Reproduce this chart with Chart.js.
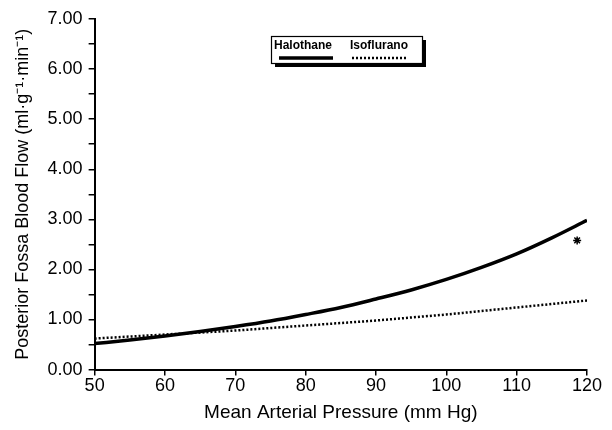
<!DOCTYPE html>
<html>
<head>
<meta charset="utf-8">
<script src="https://cdn.jsdelivr.net/npm/chart.js@4"></script>
<style>
  body { margin: 0; background: #fff; }
  #wrap { position: relative; width: 612px; height: 430px; }
</style>
</head>
<body>
<div id="wrap"><canvas id="flowChart" width="612" height="430"></canvas></div>
<script>
// Mean arterial pressure (mm Hg)
const pressure = [50, 55, 60, 65, 70, 75, 80, 85, 90, 95, 100, 105, 110, 115, 120];
// Posterior fossa blood flow (ml/g/min)
const halothane = [0.52, 0.59, 0.67, 0.76, 0.86, 0.97, 1.10, 1.24, 1.41, 1.59, 1.80, 2.04, 2.31, 2.63, 2.98];
const isoflurano = [0.62, 0.66, 0.70, 0.74, 0.78, 0.83, 0.88, 0.93, 0.98, 1.04, 1.10, 1.17, 1.24, 1.31, 1.38];
// significance marker
const starX = [118.6];
const starY = [2.58];
const yTicks = [0, 1, 2, 3, 4, 5, 6, 7];

const FONT = '"Liberation Sans", Arial, Helvetica, sans-serif';

function toPoints(xs, ys) {
    return xs.map(function(x, i) { return { x: x, y: ys[i] }; });
}

// boxed legend with a drop shadow, drawn inside the plot area
const boxLegend = {
    id: 'boxLegend',
    afterDraw: function(chart) {
        const ctx = chart.ctx;
        const left = 271, top = 36, w = 151, h = 27;
        ctx.save();
        ctx.fillStyle = '#000';
        ctx.fillRect(left + 4, top + 4, w, h);
        ctx.fillStyle = '#fff';
        ctx.fillRect(left, top, w, h);
        ctx.strokeStyle = '#000';
        ctx.lineWidth = 1.2;
        ctx.strokeRect(left + 0.5, top + 0.5, w, h);

        const items = [
            { ds: chart.data.datasets[0], tx: 274, lx: 279, lw: 54 },
            { ds: chart.data.datasets[1], tx: 350, lx: 352, lw: 56 }
        ];
        ctx.font = 'bold 12px ' + FONT;
        ctx.textBaseline = 'middle';
        ctx.textAlign = 'left';
        items.forEach(function(it) {
            ctx.fillStyle = '#000';
            ctx.fillText(it.ds.label, it.tx, top + 10);
            ctx.beginPath();
            ctx.setLineDash(it.ds.borderDash || []);
            ctx.lineWidth = it.ds.borderWidth;
            ctx.moveTo(it.lx, top + 22);
            ctx.lineTo(it.lx + it.lw, top + 22);
            ctx.stroke();
        });
        ctx.restore();
    }
};

document.addEventListener('DOMContentLoaded', function() {
    const data = {
        datasets: [{
            label: 'Halothane',
            data: toPoints(pressure, halothane),
            borderColor: '#000',
            borderWidth: 3.5,
            pointRadius: 0,
            cubicInterpolationMode: 'monotone'
        }, {
            label: 'Isoflurano',
            data: toPoints(pressure, isoflurano),
            borderColor: '#000',
            borderWidth: 2.5,
            borderDash: [2, 2],
            pointRadius: 0,
            cubicInterpolationMode: 'monotone'
        }, {
            label: 'significance',
            type: 'scatter',
            data: toPoints(starX, starY),
            pointStyle: 'star',
            pointRadius: 4,
            borderColor: '#000',
            backgroundColor: '#000',
            borderWidth: 1.5
        }]
    };

    const config = {
        type: 'line',
        data: data,
        plugins: [boxLegend],
        options: {
            responsive: false,
            animation: false,
            layout: { padding: { top: 19, right: 25, left: 4, bottom: 6 } },
            plugins: {
                legend: { display: false },
                tooltip: { enabled: false }
            },
            scales: {
                x: {
                    type: 'linear',
                    min: 50,
                    max: 120,
                    border: { display: true, color: '#000', width: 2 },
                    grid: { drawOnChartArea: false, color: '#000', tickLength: 6, lineWidth: 1.5 },
                    ticks: {
                        stepSize: 10,
                        color: '#000',
                        font: { family: FONT, size: 18 },
                        padding: 0
                    },
                    title: {
                        display: true,
                        text: 'Mean Arterial Pressure (mm Hg)',
                        color: '#000',
                        font: { family: FONT, size: 19 },
                        padding: { top: 4, bottom: 0 }
                    }
                },
                y: {
                    min: yTicks[0],
                    max: yTicks[yTicks.length - 1],
                    border: { display: true, color: '#000', width: 2 },
                    grid: { drawOnChartArea: false, color: '#000', tickLength: 6, lineWidth: 1.5 },
                    ticks: {
                        stepSize: 0.5,
                        color: '#000',
                        font: { family: FONT, size: 18 },
                        padding: 6,
                        callback: function(v) {
                            return yTicks.indexOf(v) >= 0 ? v.toFixed(2) : '';
                        }
                    },
                    title: {
                        display: true,
                        text: 'Posterior Fossa Blood Flow (ml\u00b7g\u207b\u00b9\u00b7min\u207b\u00b9)',
                        color: '#000',
                        font: { family: FONT, size: 18 },
                        padding: 8
                    }
                }
            }
        }
    };

    const chartCtx = document.getElementById('flowChart').getContext('2d');
    new Chart(chartCtx, config);
});
</script>
</body>
</html>
